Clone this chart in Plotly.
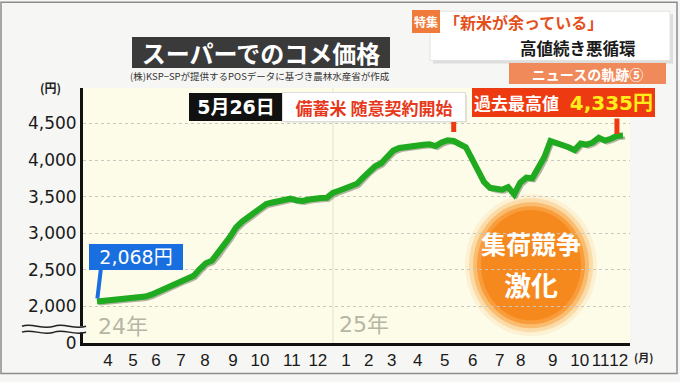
import plotly.graph_objects as go

# ---------------- data (weekly average price, yen / 5kg) ----------------
price = [2068, 2074, 2080, 2086, 2094, 2104, 2114, 2124, 2134, 2160,
         2200, 2240, 2280, 2320, 2350, 2380, 2420, 2510, 2590, 2625,
         2720, 2840, 2950, 3080, 3160, 3220, 3285, 3345, 3400, 3420,
         3436, 3455, 3474, 3450, 3440, 3460, 3475, 3480, 3483, 3550,
         3580, 3605, 3640, 3675, 3760, 3850, 3915, 3955, 4050, 4130,
         4165, 4180, 4195, 4200, 4208, 4215, 4190, 4240, 4270, 4260,
         4220, 4175, 4020, 3850, 3700, 3620, 3600, 3595, 3630, 3530,
         3690, 3760, 3750, 3880, 4040, 4260, 4235, 4211, 4175, 4135,
         4225, 4210, 4240, 4305, 4265, 4290, 4328, 4335]
week = list(range(len(price)))

month_tick_pos = [1.82, 5.95, 9.75, 13.88, 17.85, 22.48, 26.94, 32.23, 36.53,
                  41.16, 44.96, 48.76, 53.06, 57.52, 62.15, 66.61, 70.08,
                  75.37, 79.83, 83.31, 86.28]
month_tick_text = ["4", "5", "6", "7", "8", "9", "10", "11", "12",
                   "1", "2", "3", "4", "5", "6", "7", "8", "9", "10", "11", "12"]

y_tick_vals = [1500, 2000, 2500, 3000, 3500, 4000, 4500]
y_tick_text = ["0", "2,000", "2,500", "3,000", "3,500", "4,000", "4,500"]

start_label = "2,068円"
record_label = "4,335円"
event_date = "5月26日"
event_text = "備蓄米 随意契約開始"

# ---------------- layout helpers ----------------
W, H = 680, 382
L, R, T, B = 83, 50, 88, 35
PW, PH = W - L - R, H - T - B


def px(x):
    return (x - L) / PW


def py(y):
    return (H - B - y) / PH


JP = "Noto Sans CJK JP"
NUM = "DejaVu Sans, Noto Sans CJK JP"

fig = go.Figure()

# shadow of the line
fig.add_trace(go.Scatter(
    x=[w + 0.35 for w in week], y=[p - 35 for p in price], mode="lines",
    line=dict(color="rgba(120,120,110,0.55)", width=3),
    hoverinfo="skip", showlegend=False))
# main line
fig.add_trace(go.Scatter(
    x=week, y=price, mode="lines",
    line=dict(color="#1faa1f", width=6),
    showlegend=False))

shapes = []
# outer frame
shapes.append(dict(type="rect", xref="paper", yref="paper",
                   x0=px(1), x1=px(677), y0=py(378), y1=py(1),
                   line=dict(color="#8c8c8c", width=1.5), layer="below"))
# year boundary faint line
shapes.append(dict(type="line", xref="paper", yref="paper",
                   x0=px(333), x1=px(333), y0=py(347), y1=py(88),
                   line=dict(color="rgba(215,215,185,0.7)", width=1), layer="below"))
# orange burst (glow)
cx, cy = 531, 268
for rx, ry, col in [(66, 72, "rgba(252,215,160,0.30)"),
                    (62, 68, "rgba(251,195,120,0.45)"),
                    (58, 64, "rgba(249,170,80,0.65)"),
                    (54, 60, "rgba(248,150,50,0.85)"),
                    (50, 56, "#f6891e")]:
    shapes.append(dict(type="circle", xref="paper", yref="paper",
                       x0=px(cx - rx), x1=px(cx + rx), y0=py(cy + ry), y1=py(cy - ry),
                       fillcolor=col, line=dict(width=0), layer="between"))
# header panel (top right)
shapes.append(dict(type="rect", xref="paper", yref="paper",
                   x0=px(433), x1=px(673), y0=py(63), y1=py(13),
                   fillcolor="rgba(0,0,0,0.10)", line=dict(width=0)))
shapes.append(dict(type="rect", xref="paper", yref="paper",
                   x0=px(430), x1=px(670), y0=py(60), y1=py(10),
                   fillcolor="white", line=dict(color="#e2e2e2", width=1)))
# shadow of event text box
shapes.append(dict(type="rect", xref="paper", yref="paper",
                   x0=px(285), x1=px(467), y0=py(123), y1=py(95),
                   fillcolor="rgba(0,0,0,0.10)", line=dict(width=0)))
# broken axis marks
shapes.append(dict(type="rect", xref="paper", yref="paper",
                   x0=px(22), x1=px(87), y0=py(336), y1=py(330),
                   fillcolor="#f6f6f4", line=dict(width=0)))


def wave(y0):
    return (f"M {px(22)},{py(y0)} C {px(32)},{py(y0-4)} {px(42)},{py(y0+4)} {px(54)},{py(y0)} "
            f"C {px(64)},{py(y0-4)} {px(74)},{py(y0+4)} {px(86)},{py(y0)}")


for yy in (330, 336):
    shapes.append(dict(type="path", xref="paper", yref="paper", path=wave(yy),
                       line=dict(color="#222", width=1.5)))

annotations = []


def box(text, cx_, cy_, w, h, bg, size, color="white", family=JP, border=None):
    annotations.append(dict(
        text=text, xref="paper", yref="paper", x=px(cx_), y=py(cy_),
        xanchor="center", yanchor="middle", showarrow=False,
        width=w, height=h, bgcolor=bg, borderpad=0,
        bordercolor=border if border else bg, borderwidth=1 if border else 0,
        font=dict(family=family, size=size, color=color)))


def label(text, x_, y_, size, color, family=JP, xanchor="center"):
    annotations.append(dict(
        text=text, xref="paper", yref="paper", x=px(x_), y=py(y_),
        xanchor=xanchor, yanchor="middle", showarrow=False,
        font=dict(family=family, size=size, color=color)))


# title
box("<b>スーパーでのコメ価格</b>", 261, 52, 258, 31, "#3a3a3a", 24)
label("(株)KSP−SPが提供するPOSデータに基づき農林水産省が作成", 260, 76, 9.5, "#333")
# header
box("<b>特集</b>", 426, 20, 28, 23, "#f07a3a", 12)
label("<b>「新米が余っている」</b>", 523, 21, 16, "#e4501b")
label("<b>高値続き悪循環</b>", 578, 47, 16.5, "#1a1a1a")
box("<b>ニュースの軌跡⑤</b>", 587, 73, 157, 21, "#f08a5a", 14)

# axis unit labels
label("<b>(円)</b>", 50, 87, 12, "#222")
label("<b>(月)</b>", 643, 361, 11, "#222")
label("24年", 123, 330, 22, "#b6b6a6", family=NUM)
label("25年", 364, 328, 22, "#b6b6a6", family=NUM)

# start value callout
annotations.append(dict(x=week[0], y=price[0], xref="x", yref="y", text="",
                        showarrow=True, ax=4, ay=-34, arrowhead=0, arrowwidth=4,
                        arrowcolor="#1a6fe0", standoff=3))
box(start_label, 136, 260, 94, 26, "#1a6fe0", 19, family=NUM)

# 5/26 event callout
annotations.append(dict(x=week[59], y=price[59], xref="x", yref="y", text="",
                        showarrow=True, ax=0, ay=-21, arrowhead=0, arrowwidth=5,
                        arrowcolor="#ee3a10", standoff=9))
box("<b>" + event_date + "</b>", 236, 107, 94, 28, "#111", 19, family=NUM)
box("<b>" + event_text + "</b>", 374, 107, 182, 28, "white", 17, color="#e6391b",
    border="#dddddd")

# record-high callout
annotations.append(dict(x=week[86], y=price[86], xref="x", yref="y", text="",
                        showarrow=True, ax=0, ay=-19, arrowhead=0, arrowwidth=5,
                        arrowcolor="#ee3a10", standoff=2))
box("<b>過去最高値</b>  <b><span style='color:#ffec1a;font-size:20px'>" + record_label + "</span></b>",
    563, 103, 183, 29, "#ee3a10", 17, family=NUM)

# burst text
label("<b>集荷競争</b>", 531, 245, 25, "white")
label("<b>激化</b>", 531, 288, 27, "white")

fig.update_layout(
    width=W, height=H,
    margin=dict(l=L, r=R, t=T, b=B, pad=0),
    paper_bgcolor="#f6f6f4",
    plot_bgcolor="#fdfce8",
    shapes=shapes,
    annotations=annotations,
    xaxis=dict(range=[-2.32, 88.16], tickvals=month_tick_pos, ticktext=month_tick_text,
               tickangle=0,
               showgrid=False, zeroline=False, showline=True, linecolor="#111",
               linewidth=3, ticks="", fixedrange=True,
               tickfont=dict(family="Liberation Sans", size=17, color="#1a1a1a")),
    yaxis=dict(range=[1500, 4984], tickvals=y_tick_vals, ticktext=y_tick_text,
               showgrid=True, gridcolor="#c8c8c0", griddash="dot", gridwidth=1,
               zeroline=False, showline=True, linecolor="#111", linewidth=3,
               ticks="", fixedrange=True,
               tickfont=dict(family="DejaVu Sans", size=17, color="#1a1a1a")),
    showlegend=False,
)

fig.write_html("out.html", config={"displayModeBar": False},
               post_script="document.body.style.margin='0px';")
